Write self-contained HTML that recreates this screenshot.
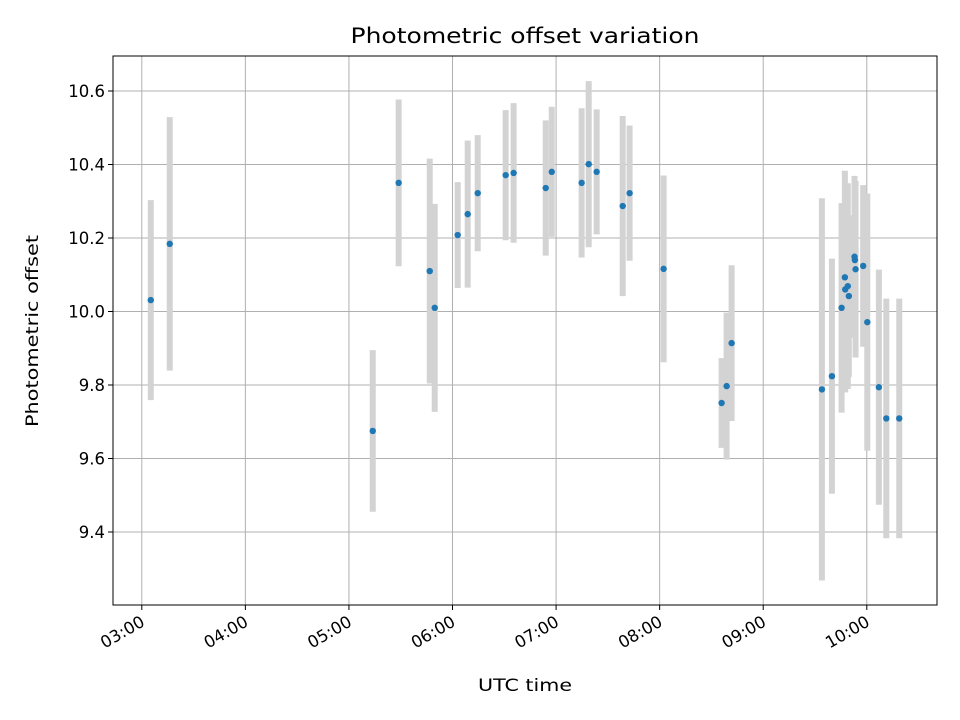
<!DOCTYPE html>
<html><head><meta charset="utf-8"><style>
html,body{margin:0;padding:0;background:#fff}
svg{display:block;font-family:"DejaVu Sans","Liberation Sans",sans-serif}
</style></head><body>
<svg id="chart" width="960" height="720" viewBox="0 0 960 720">
<rect x="0" y="0" width="960" height="720" fill="#fff"/>
<g id="grid"></g>
<g id="bars"></g>
<g id="pts"></g>
<rect x="113" y="56" width="824" height="549" fill="none" stroke="#000" stroke-width="1"/>
<g id="ticks"></g>
<text x="525" y="43" text-anchor="middle" font-size="21" textLength="349" lengthAdjust="spacingAndGlyphs">Photometric offset variation</text>
<text x="525" y="691" text-anchor="middle" font-size="17" textLength="94" lengthAdjust="spacingAndGlyphs">UTC time</text>
<text transform="translate(38,331) rotate(-90)" text-anchor="middle" font-size="17" textLength="192" lengthAdjust="spacingAndGlyphs">Photometric offset</text>
</svg>
<script>
// minutes after 03:00 UTC
const times = [5.2,16.2,133.8,148.8,166.8,169.7,183,188.8,194.6,210.8,215.4,234,237.5,254.8,258.9,263.5,278.6,282.6,302.3,335.9,338.8,341.7,394,399.8,405.4,407.3,407.5,409,409.6,412.9,413.1,413.5,417.9,420.3,427,431.3,438.8];
const offsets = [10.031,10.184,9.675,10.35,10.11,10.01,10.208,10.265,10.322,10.371,10.377,10.336,10.38,10.35,10.401,10.38,10.287,10.322,10.116,9.751,9.797,9.914,9.788,9.824,10.01,10.093,10.06,10.069,10.042,10.149,10.14,10.115,10.124,9.971,9.794,9.709,9.709];
const errors = [0.272,0.345,0.22,0.227,0.306,0.283,0.144,0.2,0.158,0.177,0.19,0.184,0.177,0.203,0.226,0.17,0.245,0.184,0.254,0.122,0.2,0.212,0.52,0.32,0.285,0.29,0.28,0.28,0.22,0.22,0.2,0.24,0.22,0.35,0.32,0.326,0.326];
const xTickLabels = ["03:00","04:00","05:00","06:00","07:00","08:00","09:00","10:00"];
const yTickValues = [9.4,9.6,9.8,10.0,10.2,10.4,10.6];
const yTickLabels = ["9.4","9.6","9.8","10.0","10.2","10.4","10.6"];

const NS="http://www.w3.org/2000/svg";
const L=113,R=937,T=56,B=605;
function xs(m){return 141.8+m*(103.57/60);}
function ys(v){return 532-(v-9.4)*367.5;}
function mk(tag,attrs,parent){const e=document.createElementNS(NS,tag);for(const k in attrs)e.setAttribute(k,attrs[k]);document.getElementById(parent).appendChild(e);return e;}

xTickLabels.forEach((lab,i)=>{
  const x=xs(i*60);
  const g=mk('line',{x1:x,x2:x,y1:T,y2:B,stroke:'#b0b0b0','stroke-width':1},'grid');
  
  
  const t=mk('line',{x1:x,x2:x,y1:B,y2:B+5,stroke:'#000','stroke-width':1},'ticks');
  
  
  const tx=mk('text',{'font-size':'16.5','text-anchor':'end',transform:`translate(${x+4},${B+20}) rotate(-30)`},'ticks');
  tx.textContent=lab;
  
  
});
yTickValues.forEach((v,i)=>{
  const y=ys(v);
  const g=mk('line',{x1:L,x2:R,y1:y,y2:y,stroke:'#b0b0b0','stroke-width':1},'grid');
  
  
  const t=mk('line',{x1:L-5,x2:L,y1:y,y2:y,stroke:'#000','stroke-width':1},'ticks');
  
  
  const tx=mk('text',{x:L-26+0,y:y+6,'font-size':'16.5','text-anchor':'end'},'ticks');
  tx.setAttribute('x',L-8);
  tx.textContent=yTickLabels[i];
  
  
});
times.forEach((m,i)=>{
  const x=xs(m);
  const b=mk('line',{x1:x,x2:x,y1:Math.max(T,ys(offsets[i]+errors[i])),y2:Math.min(B,ys(offsets[i]-errors[i])),stroke:'#d3d3d3','stroke-width':6},'bars');
  
  
});
times.forEach((m,i)=>{
  const p=mk('circle',{cx:xs(m),cy:ys(offsets[i]),r:3.2,fill:'#1f77b4'},'pts');
  
  
});
</script>
</body></html>
